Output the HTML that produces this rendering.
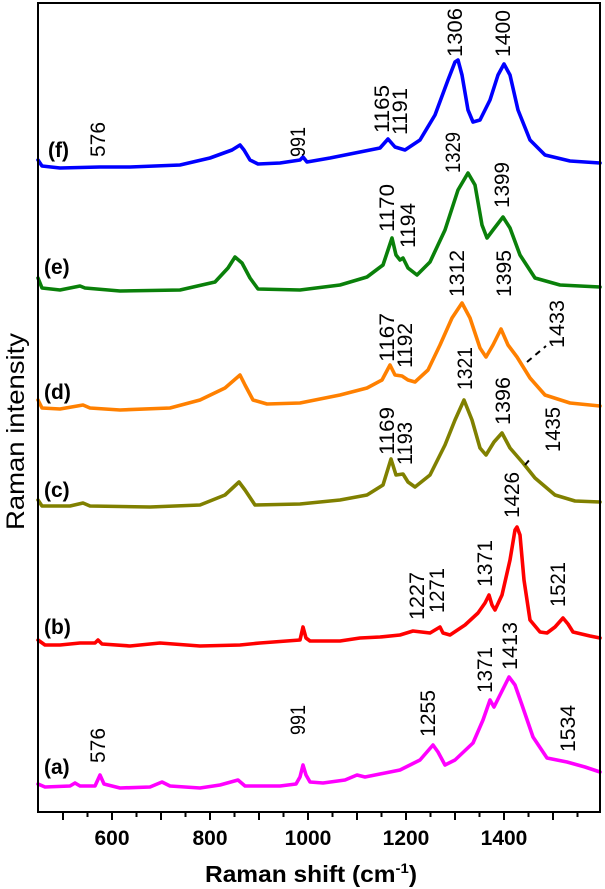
<!DOCTYPE html>
<html><head><meta charset="utf-8"><style>
html,body{margin:0;padding:0;background:#fff}
svg{display:block}
text{font-family:"Liberation Sans",Arial,sans-serif}
</style></head><body>
<svg id="s" width="605" height="889" viewBox="0 0 605 889" xmlns="http://www.w3.org/2000/svg">
<rect x="0" y="0" width="605" height="889" fill="#fff"/>
<g id="curves" fill="none" stroke-width="3.6" stroke-linejoin="round" stroke-linecap="round"></g>
<rect x="38" y="3" width="562" height="809" fill="none" stroke="#000" stroke-width="2"/>
<g stroke="#000" stroke-width="2" id="ticks"></g>
<g font-weight="bold" font-size="21" text-anchor="middle" fill="#000">
<text x="112" y="845">600</text><text x="210" y="845">800</text><text x="308" y="845">1000</text><text x="406" y="845">1200</text><text x="504" y="845">1400</text>
</g>
<text x="205" y="882" font-weight="bold" font-size="23" textLength="212" lengthAdjust="spacingAndGlyphs">Raman shift (cm<tspan font-size="14" dy="-9">-1</tspan><tspan dy="9">)</tspan></text>
<text transform="translate(24,530) rotate(-90)" font-size="25" textLength="197" lengthAdjust="spacingAndGlyphs">Raman intensity</text>
<g font-weight="bold" font-size="21" fill="#000">
<text x="48" y="157">(f)</text><text x="44" y="274">(e)</text><text x="44" y="399">(d)</text><text x="44" y="497">(c)</text><text x="44" y="634">(b)</text><text x="44" y="774">(a)</text>
</g>
<g id="labs" font-size="21" fill="#000"></g>
<g stroke="#000" stroke-width="2" stroke-dasharray="6,5">
<line x1="527" y1="362" x2="546" y2="346"/>
<line x1="525" y1="465" x2="531" y2="458"/>
</g>
</svg>
<script>
var NS="http://www.w3.org/2000/svg";
var curves=[
["#0000ff",[[38,160],[42,166],[60,168],[100,167],[130,167],[180,165],[210,158],[232,150],[240,145],[244,150],[250,160],[258,164],[280,163],[300,160],[303,157],[307,162],[330,158],[360,152],[380,148],[388,139],[395,147],[405,150],[420,140],[435,115],[448,80],[455,62],[458,60],[462,75],[468,110],[473,122],[480,120],[490,100],[498,75],[504,64],[510,75],[518,110],[530,140],[545,155],[570,161],[600,163]]],
["#0a800a",[[38,278],[42,288],[60,290],[80,286],[85,288],[120,291],[180,290],[215,282],[228,268],[235,257],[242,263],[250,278],[258,289],[300,290],[340,285],[367,277],[383,265],[388,250],[392,238],[396,255],[400,260],[403,258],[408,268],[417,275],[430,262],[445,230],[458,190],[468,173],[475,185],[482,225],[487,238],[493,230],[503,217],[510,228],[520,255],[535,278],[560,285],[600,287]]],
["#ff8000",[[38,400],[42,408],[60,409],[83,405],[90,408],[120,410],[170,408],[200,400],[225,388],[240,375],[245,385],[253,400],[267,404],[300,403],[340,395],[367,388],[382,380],[390,365],[395,375],[402,376],[408,380],[415,382],[428,370],[440,345],[452,318],[462,303],[470,318],[480,348],[486,357],[493,345],[501,329],[508,345],[517,357],[530,378],[545,395],[570,403],[600,406]]],
["#808000",[[38,500],[42,506],[70,506],[83,503],[90,506],[150,507],[200,505],[225,495],[239,482],[245,490],[255,505],[300,504],[340,500],[367,495],[383,485],[391,459],[396,475],[403,474],[408,482],[415,487],[430,475],[445,445],[455,420],[464,400],[472,420],[480,448],[486,455],[494,442],[502,433],[510,448],[523,463],[535,478],[555,495],[575,501],[600,502]]],
["#ff0000",[[38,640],[45,645],[60,645],[70,644],[80,643],[95,643],[98,640],[102,644],[130,646],[160,643],[200,646],[240,645],[260,643],[300,640],[303,627],[306,638],[310,641],[340,641],[360,638],[380,637],[400,635],[413,631],[430,633],[440,627],[443,633],[450,635],[465,625],[478,613],[485,603],[489,595],[492,605],[495,610],[502,595],[510,560],[515,530],[517,527],[520,535],[524,580],[530,620],[540,632],[547,633],[555,627],[563,618],[568,624],[573,632],[590,636],[600,638]]],
["#ff00ff",[[38,784],[45,787],[70,786],[75,783],[80,786],[95,786],[100,775],[104,784],[120,788],[150,787],[162,782],[170,786],[200,788],[220,785],[238,780],[245,786],[280,786],[296,784],[300,777],[303,765],[306,775],[310,782],[323,783],[345,780],[357,775],[365,777],[380,774],[400,770],[420,760],[433,745],[438,752],[445,765],[455,760],[473,743],[483,720],[490,700],[494,707],[500,695],[509,677],[515,685],[522,705],[533,737],[547,758],[567,762],[585,767],[600,772]]]
];
var g=document.getElementById("curves");
curves.forEach(function(c){var p=document.createElementNS(NS,"polyline");p.setAttribute("points",c[1].map(function(q){return q.join(",")}).join(" "));p.setAttribute("stroke",c[0]);g.appendChild(p);});
var t=document.getElementById("ticks");
for(var v=500;v<=1550;v+=50){var x=112+(v-600)*0.49;var l=document.createElementNS(NS,"line");l.setAttribute("x1",x);l.setAttribute("x2",x);l.setAttribute("y1",812);l.setAttribute("y2",(v%100==0)?820:817);t.appendChild(l);}
// labels: text, right x, bottom y, length
var labs=[["576",107,157,35],["991",307,157,30],["1165",391,133,48],["1191",409,135,47],["1306",464,57,49],["1400",512,57,47],
["1170",396,232,48],["1194",417,248,45],["1329",462,173,41],["1399",511,208,46],
["1167",396,362,49],["1192",414,368,45],["1312",466,297,47],["1395",513,297,47],["1433",566,348,48],
["1169",396,455,48],["1193",414,465,43],["1321",474,390,43],["1396",512,425,48],["1435",562,452,45],["1426",521,518,46],
["1227",426,620,48],["1271",446,613,45],["1371",494,587,47],["1521",567,607,45],
["576",107,763,35],["991",307,735,30],["1255",437,737,47],["1371",494,693,46],["1413",519,670,48],["1534",577,752,47]];
var lg=document.getElementById("labs");
labs.forEach(function(a){var e=document.createElementNS(NS,"text");e.setAttribute("transform","translate("+(a[1]-2)+","+a[2]+") rotate(-90)");e.setAttribute("textLength",a[3]);e.setAttribute("lengthAdjust","spacingAndGlyphs");e.textContent=a[0];lg.appendChild(e);});
</script>
</body></html>
